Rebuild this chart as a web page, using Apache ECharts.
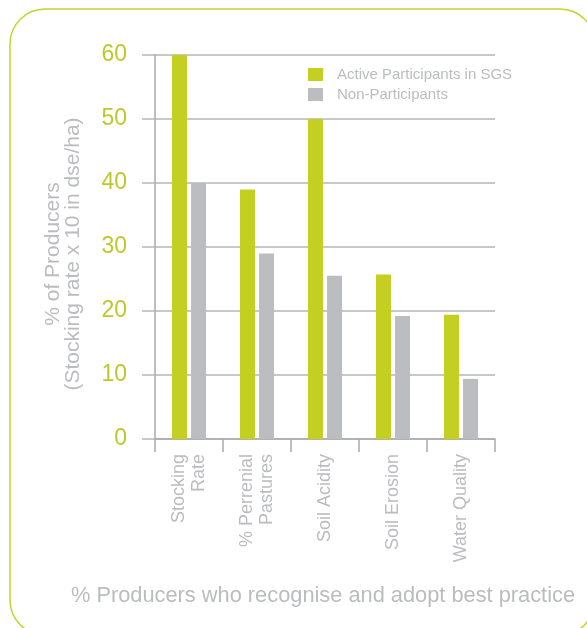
<!DOCTYPE html>
<html>
<head>
<meta charset="utf-8">
<script src="https://cdn.jsdelivr.net/npm/echarts@6/dist/echarts.min.js"></script>
<style>
html,body{margin:0;padding:0;background:#fff;}
#chart{width:587px;height:628px;}
</style>
</head>
<body>
<div id="chart"></div>
<script>
var categories = ['Stocking\nRate', '% Perrenial\nPastures', 'Soil Acidity', 'Soil Erosion', 'Water Quality'];
var activeParticipants = [60, 39, 50, 25.7, 19.4];
var nonParticipants = [40, 29, 25.5, 19.2, 9.4];
var seriesNames = ['Active Participants in SGS', 'Non-Participants'];
var yTicks = [0, 10, 20, 30, 40, 50, 60];
var yTitle = '% of Producers\n(Stocking rate x 10 in dse/ha)';
var xTitle = '% Producers who recognise and adopt best practice';

var GREEN = '#c3cf21';
var GREY = '#bcbdc0';
var TEXT_GREY = '#bbbcbf';
var LABEL_GREEN = '#bdc92b';
var FONT = 'Liberation Sans, Arial, Helvetica, sans-serif';

var chart = echarts.init(document.getElementById('chart'), null, {renderer: 'canvas'});
chart.setOption({
  backgroundColor: '#ffffff',
  animation: false,
  textStyle: {fontFamily: FONT},
  graphic: [{
    type: 'rect',
    shape: {x: 10, y: 9, width: 585, height: 626, r: 35},
    style: {fill: 'none', stroke: '#c5d32a', lineWidth: 1.5},
    silent: true,
    z: -1
  }],
  title: {
    text: xTitle,
    left: 318,
    top: 580,
    textAlign: 'center',
    textStyle: {color: TEXT_GREY, fontSize: 21.8, fontWeight: 'normal', fontFamily: FONT}
  },
  legend: {
    orient: 'vertical',
    left: 308,
    top: 67,
    padding: 0,
    itemWidth: 15,
    itemHeight: 13,
    itemGap: 5,
    icon: 'rect',
    data: seriesNames,
    textStyle: {color: TEXT_GREY, fontSize: 15, fontFamily: FONT, padding: [0, 0, 0, 9]}
  },
  grid: {left: 155, right: 92, top: 55, bottom: 189, containLabel: false},
  xAxis: {
    type: 'category',
    data: categories,
    boundaryGap: true,
    axisLine: {show: true, lineStyle: {color: '#a9aaad', width: 1.5}},
    axisTick: {show: true, length: 13, alignWithLabel: false, lineStyle: {color: '#a9aaad', width: 1.5}},
    axisLabel: {
      rotate: 90,
      margin: 15,
      interval: 0,
      color: TEXT_GREY,
      fontSize: 18,
      lineHeight: 20,
      fontFamily: FONT
    }
  },
  yAxis: {
    type: 'value',
    min: 0,
    max: 60,
    interval: 10,
    name: yTitle,
    nameLocation: 'middle',
    nameRotate: 90,
    nameGap: 72,
    nameTextStyle: {color: TEXT_GREY, fontSize: 21, lineHeight: 20, fontFamily: FONT, align: 'center', padding: [0, 14, 0, 0]},
    axisLine: {show: true, lineStyle: {color: '#a9aaad', width: 1.5}},
    axisTick: {show: true, length: 13, lineStyle: {color: '#b5b6b8', width: 1.5}},
    splitLine: {show: true, lineStyle: {color: '#b5b6b8', width: 1.5}},
    axisLabel: {
      margin: 28,
      color: LABEL_GREEN,
      fontSize: 23,
      fontFamily: FONT,
      formatter: function (v) { return yTicks.indexOf(v) >= 0 ? String(v) : ''; }
    }
  },
  series: [{
    name: seriesNames[0],
    type: 'bar',
    data: activeParticipants,
    barWidth: 15,
    barGap: '27%',
    itemStyle: {color: GREEN}
  }, {
    name: seriesNames[1],
    type: 'bar',
    data: nonParticipants,
    barWidth: 15,
    barGap: '27%',
    itemStyle: {color: GREY}
  }]
});
</script>
</body>
</html>
